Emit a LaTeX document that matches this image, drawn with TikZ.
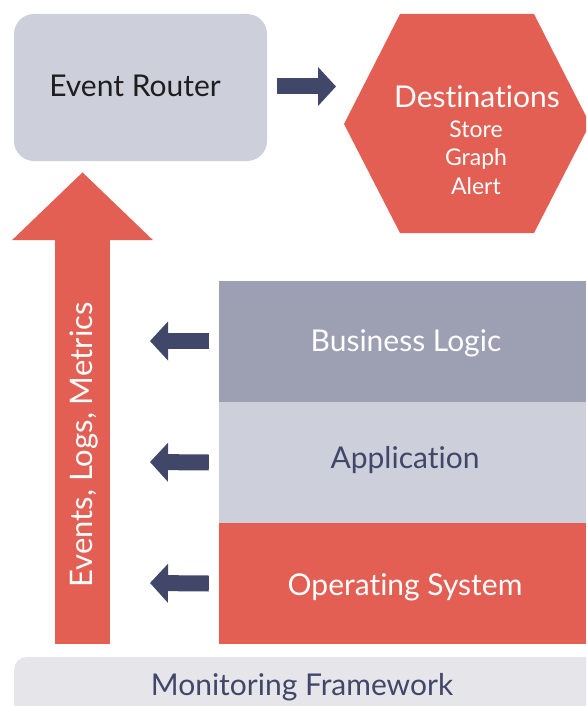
\documentclass[tikz,border=0pt]{standalone}
\usepackage{fontspec}
\setmainfont{Lato}[Ligatures=NoCommon]
\usetikzlibrary{arrows.meta}
\definecolor{navy}{HTML}{404769}
\definecolor{coral}{HTML}{E35F53}
\definecolor{lightgr}{HTML}{CDCFDB}
\definecolor{midgr}{HTML}{9D9FB3}
\definecolor{palegr}{HTML}{E6E6EA}
\definecolor{ink}{HTML}{1E1E1E}
\tikzset{
  blockarrow/.style={draw=navy, line width=16pt, -{Triangle[width=38pt,length=18pt]}},
  bigtxt/.style={font=\fontsize{30}{34}\selectfont, inner sep=0pt, anchor=base},
  smalltxt/.style={font=\fontsize{23}{26}\selectfont, inner sep=0pt, anchor=base, text=white},
  layer/.style={inner sep=0pt, minimum width=367pt, minimum height=121pt},
}
\begin{document}
\begin{tikzpicture}[x=1pt,y=-1pt]
\useasboundingbox (0,0) rectangle (586,706);
\clip (0,0) rectangle (586,706);
% Event router
\node[fill=lightgr, rounded corners=20pt, minimum width=253pt, minimum height=147pt, inner sep=0pt] (router) at (140.5,87.5) {};
\node[bigtxt, text=ink] (routertxt) at (135,97) {Event Router};
% Destinations hexagon
\fill[coral] (344,124) -- (400,14) -- (534,14) -- (590,124) -- (534,233) -- (400,233) -- cycle;
\coordinate (hexw) at (336,86.5);
\node[bigtxt, text=white] (dest) at (477,107) {Destinations};
\node[smalltxt] (store) at (476,137) {Store};
\node[smalltxt] (graph) at (476,165) {Graph};
\node[smalltxt] (alert) at (476,194) {Alert};
\draw[blockarrow] ([xshift=10pt,yshift=1pt]router.east) -- (hexw);
% Layers
\node[layer, fill=midgr] (biz) at (402.5,341) {};
\node[layer, fill=lightgr] (app) at (402.5,462.5) {};
\node[layer, fill=coral] (os) at (402.5,583.5) {};
\node[bigtxt, text=white] (biztxt) at (406,351) {Business Logic};
\node[bigtxt, text=navy] (apptxt) at (405,468) {Application};
\node[bigtxt, text=white] (ostxt) at (405,595) {Operating System};
% Big up arrow
\coordinate (evbot) at (82.5,644);
\draw[draw=coral, line width=55pt, -{Triangle[width=137pt,length=68pt]}, shorten >=11pt] (evbot) -- (router.south -| evbot);
\node[font=\fontsize{31}{34}\selectfont, inner sep=0pt, anchor=base, text=white, rotate=90] (evtxt) at (92,445) {Events, Logs, Metrics};
% Small arrows
\coordinate (bizend) at (150,341);
\coordinate (append) at (150,462);
\coordinate (osend) at (150,583);
\draw[blockarrow] ([xshift=-10pt]biz.west) -- (bizend);
\draw[blockarrow] ([xshift=-10pt]app.west) -- (append);
\draw[blockarrow] ([xshift=-10pt]os.west) -- (osend);
% Monitoring framework
\node[fill=palegr, rounded corners=12pt, minimum width=600pt, minimum height=60pt, inner sep=0pt, anchor=north west] (mon) at (14,657) {};
\node[bigtxt, text=navy] (montxt) at (302,695) {Monitoring Framework};
\end{tikzpicture}
\end{document}
